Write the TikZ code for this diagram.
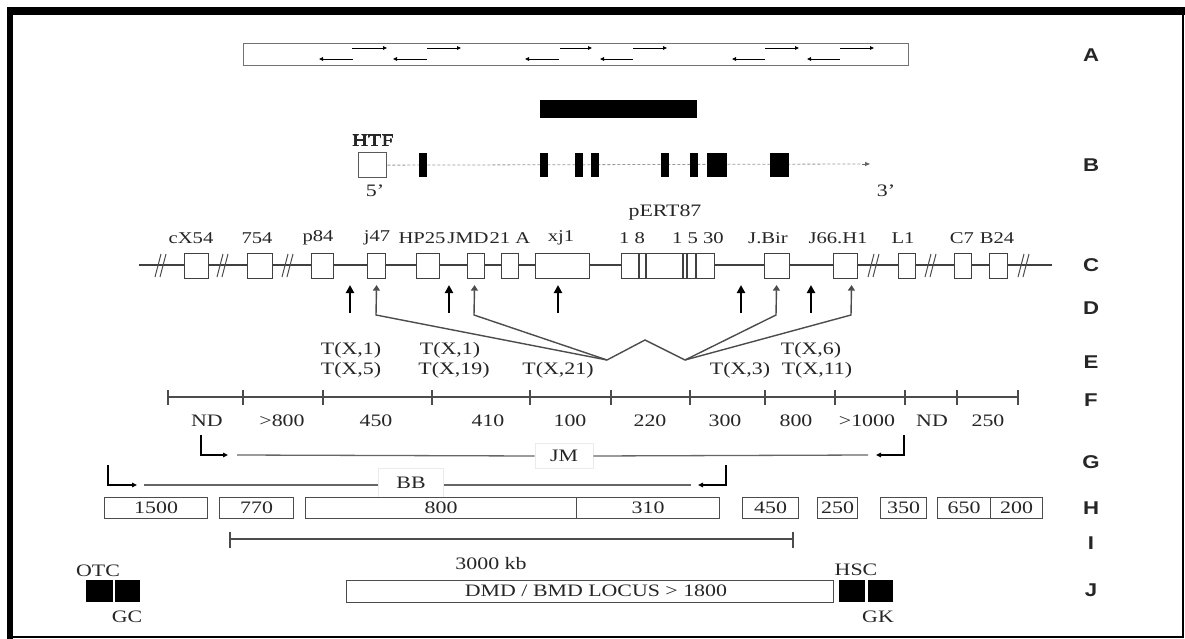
\documentclass[tikz,border=0pt]{standalone}
\usepackage{fontspec}
\usepackage{graphicx}
\setmainfont{Liberation Serif}[FakeStretch=1.25]
\newfontfamily\labfont{Liberation Sans}[FakeStretch=1.2]
\usetikzlibrary{arrows.meta,calc}
\newcommand\bx[7]{\node[#1, anchor=north west, minimum width={#4-#2}, minimum height={#5-#3}] (#6) at (#2,#3) {#7};}
\begin{document}
\begin{tikzpicture}[x=1pt,y=-1pt,
  txt/.style={font=\fontsize{17.5}{19}\selectfont, inner sep=0pt, text=black!85},
  ctxt/.style={font=\fontsize{16.5}{18}\selectfont, inner sep=0pt, text=black!85},
  letter/.style={font=\labfont\bfseries\fontsize{18.5}{20}\selectfont, inner sep=0pt, text=black!85},
  rowa/.style={draw=black!55, line width=1.4pt, inner sep=0pt},
  ebox/.style={draw=black!75, line width=1.1pt, fill=white, inner sep=0pt},
  hbox/.style={draw=black!70, line width=1.2pt, fill=white, inner sep=0pt, font=\fontsize{17.5}{19}\selectfont, text=black!85},
  exon/.style={fill=black, draw=none, inner sep=0pt},
  tinyarr/.style={line width=0.9pt, -{Triangle[length=4pt,width=3.5pt]}},
  gline/.style={draw=black!40, line width=0.8pt, densely dashed},
  gtip/.style={draw=black!60, line width=0.8pt, -{Triangle[length=5pt,width=4pt]}},
  cline/.style={draw=black!75, line width=1.1pt},
  brk/.style={draw=black!70, line width=1pt},
  solidarr/.style={line width=2.3pt, -{Triangle[length=8pt,width=8pt]}},
  openarr/.style={draw=black!70, line width=1.4pt, -{Triangle[length=5.5pt,width=7pt]}},
  zig/.style={draw=black!70, line width=1.4pt},
  fline/.style={draw=black!70, line width=1.1pt},
  bent/.style={line width=1.8pt, -{Triangle[length=5pt,width=4.5pt]}},
  spanline/.style={draw=black!60, line width=1.3pt},
  wlabel/.style={fill=white, draw=black!8, line width=0.6pt, inner sep=0pt, font=\fontsize{17.5}{19}\selectfont, text=black!85}
]
\useasboundingbox (0,0) rectangle (1185,639);
\fill[white] (0,0) rectangle (1185,639);
% frame
\fill[black] (7,7) rectangle (1185,15);
\fill[black] (7,7) rectangle (13,639);
\draw[line width=1.2pt] (1183,15) -- (1183,637) -- (13,637);

% ---- Row A
\bx{rowa}{243}{43}{908}{65}{abox}{}
\foreach \a/\b in {352/387,427/461,560/592,633/667,765/799,840/874}
  \draw[tinyarr] (\a,48) -- (\b,48);
\foreach \a/\b in {353/319,427/393,559/525,633/600,765/732,840/807}
  \draw[tinyarr] (\a,59) -- (\b,59);
\node[letter] (LA) at (1091,55) {A};

% ---- black bar
\bx{exon}{540}{100}{697}{118}{bar}{}

% ---- Row B
\coordinate (b3) at (870,164);
\coordinate (b2) at (862,164);
\bx{ebox,draw=black!65,line width=1.3pt}{358}{152}{386}{177}{htf}{}
\draw[gline] (htf.east) -- (b2);
\draw[gtip] (b2) -- (b3);
\foreach \a/\b [count=\i] in {419/427,540/548,575/583,591/599,661/669,690/698,707/727,770/789}
  \bx{exon}{\a}{153}{\b}{177}{ex\i}{}
\node[txt] (htflab) at (373,141) {HTF};
\node[txt] (p5) at (375,191) {5'};
\node[txt] (p3) at (886,191) {3'};
\node[letter] (LB) at (1091,165) {B};

% ---- Row C
\node[txt] (pert) at (665,213) {pERT87};
\coordinate (cl) at (139,265);
\coordinate (cr) at (1052,265);
\draw[cline] (cl) -- (cr);
\bx{ebox}{184}{253}{208}{278}{cx54}{}
\bx{ebox}{247}{253}{272}{278}{c754}{}
\bx{ebox}{311}{253}{333}{278}{p84}{}
\bx{ebox}{367}{253}{385}{278}{j47}{}
\bx{ebox}{416}{253}{439}{278}{hp25}{}
\bx{ebox}{467}{253}{484}{278}{jmd}{}
\bx{ebox}{501}{253}{518}{278}{c21a}{}
\bx{ebox}{535}{253}{589}{278}{xj1}{}
\bx{ebox}{621}{253}{714}{278}{pbox}{}
\foreach \x in {639,646,683,687,696}
  \draw[cline] (\x,253) -- (\x,278);
\bx{ebox}{764}{253}{789}{278}{jbir}{}
\bx{ebox}{833}{253}{857}{278}{j66}{}
\bx{ebox}{898}{253}{915}{278}{l1}{}
\bx{ebox}{954}{253}{971}{278}{c7}{}
\bx{ebox}{989}{253}{1007}{278}{b24}{}
\foreach \x in {162,224,289,875,932,1025} {
  \draw[brk] (\x-7,277) -- (\x-1,254);
  \draw[brk] (\x-2,277) -- (\x+4,254);
}
\node[ctxt] at (191,238) {cX54};
\node[ctxt] at (257,238) {754};
\node[ctxt] at (318,238) {p84};
\node[ctxt] at (377,238) {j47};
\node[ctxt] at (422,238) {HP25};
\node[ctxt] at (468,238) {JMD};
\node[ctxt] at (510,238) {21 A};
\node[ctxt] at (561,238) {xj1};
\node[ctxt] at (632,238) {1 8};
\node[ctxt] at (698,238) {1 5 30};
\node[ctxt] at (768,238) {J.Bir};
\node[ctxt] at (838,238) {J66.H1};
\node[ctxt] at (903,238) {L1};
\node[ctxt] at (962,238) {C7};
\node[ctxt] at (997,238) {B24};
\node[letter] (LC) at (1091,265) {C};

% ---- Row D
\foreach \x in {350,449,558,741,811}
  \draw[solidarr] (\x,313) -- (\x,285);
\coordinate (zl) at (607,360);
\coordinate (zp) at (645,340);
\coordinate (zr) at (685,360);
\draw[zig] (zl) -- (zp) -- (zr);
\draw[openarr] (zl) -- (376,315) -- ($(j47.south)+(0,6)$);
\draw[openarr] (zl) -- (474,315) -- ($(jmd.south)+(-1.5,6)$);
\draw[openarr] (zr) -- (776,315) -- ($(jbir.south)+(-0.5,6)$);
\draw[openarr] (zr) -- (851,315) -- ($(j66.south)+(6,6)$);
\node[letter] (LD) at (1091,308) {D};

% ---- Row E
\node[txt] at (351,350) {T(X,1)};
\node[txt] at (351,370) {T(X,5)};
\node[txt] at (450,350) {T(X,1)};
\node[txt] at (454,370) {T(X,19)};
\node[txt] at (558,370) {T(X,21)};
\node[txt] at (811,350) {T(X,6)};
\node[txt] at (740,370) {T(X,3)};
\node[txt] at (817,370) {T(X,11)};
\node[letter] (LE) at (1091,362) {E};

% ---- Row F
\coordinate (fl) at (168,397);
\coordinate (fr) at (1018,397);
\draw[fline] (fl) -- (fr);
\foreach \x in {168,243,323,432,530,611,690,765,835,905,957,1018}
  \draw[fline] (\x,390) -- (\x,405);
\foreach \x/\t in {207/ND,282/>800,376/450,488/410,570/100,650/220,725/300,796/800,867/>1000,932/ND,988/250}
  \node[txt] at (\x,421) {\t};
\node[letter] (LF) at (1091,400) {F};

% ---- Row G
\node[wlabel, minimum width=58, minimum height=25] (jm) at (564,456) {JM};
\coordinate (jmA) at (201,435);
\coordinate (jmB) at (228,455);
\coordinate (jmC) at (904,435);
\coordinate (jmD) at (876,455);
\draw[bent] (jmA) |- (jmB);
\draw[bent] (jmC) |- (jmD);
\draw[spanline] (237,455) -- (jm.west);
\draw[spanline] (jm.east) -- (868,455);
\node[wlabel, minimum width=65, minimum height=29] (bb) at (411,483) {BB};
\coordinate (bbA) at (108,465);
\coordinate (bbB) at (137,485);
\coordinate (bbC) at (726,465);
\coordinate (bbD) at (698,485);
\draw[bent] (bbA) |- (bbB);
\draw[bent] (bbC) |- (bbD);
\draw[spanline] (144,485) -- (bb.west |- 0,485);
\draw[spanline] (bb.east |- 0,485) -- (691,485);
\node[letter] (LG) at (1091,462) {G};

% ---- Row H
\bx{hbox}{104}{497}{207}{518}{h1}{1500}
\bx{hbox}{219}{497}{293}{518}{h2}{770}
\bx{hbox}{305}{497}{576}{518}{h3}{800}
\bx{hbox}{576}{497}{719}{518}{h4}{310}
\bx{hbox}{742}{497}{798}{518}{h5}{450}
\bx{hbox}{817}{497}{857}{518}{h6}{250}
\bx{hbox}{880}{497}{926}{518}{h7}{350}
\bx{hbox}{937}{497}{990}{518}{h8}{650}
\bx{hbox}{990}{497}{1042}{518}{h9}{200}
\node[letter] (LH) at (1091,508) {H};

% ---- Row I
\coordinate (il) at (230,539);
\coordinate (ir) at (793,539);
\draw[fline] (il) -- (ir);
\draw[fline] (230,532) -- (230,548);
\draw[fline] (793,532) -- (793,548);
\node[txt] (kb) at (491,564) {3000 kb};
\node[letter] (LI) at (1091,543) {I};

% ---- Row J
\node[txt] at (98,571) {OTC};
\bx{exon}{86}{580}{113}{602}{otc}{}
\bx{exon}{115}{580}{140}{602}{gc}{}
\node[txt] at (127,617) {GC};
\bx{hbox}{346}{580}{833}{602}{dmd}{}
\node[txt] at (596,591) {DMD / BMD LOCUS > 1800};
\node[txt] at (856,570) {HSC};
\bx{exon}{839}{580}{865}{602}{hsc}{}
\bx{exon}{868}{580}{893}{602}{gk}{}
\node[txt] at (878,617) {GK};
\node[letter] (LJ) at (1091,590) {J};
\end{tikzpicture}
\end{document}
